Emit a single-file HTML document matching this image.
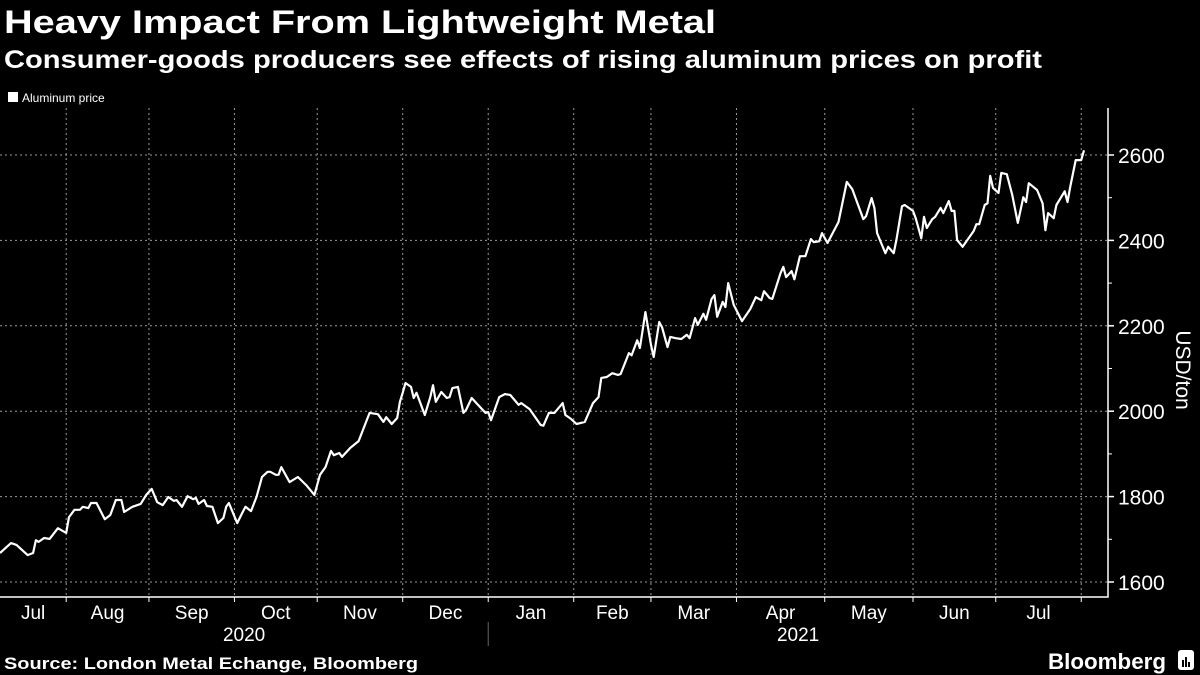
<!DOCTYPE html>
<html><head><meta charset="utf-8">
<style>
body{margin:0;background:#000;width:1200px;height:675px;overflow:hidden;font-family:"Liberation Sans",sans-serif;color:#fff}
svg{position:absolute;left:0;top:0}
</style></head>
<body>
<svg id="chart" width="1200" height="675" viewBox="0 0 1200 675">
<text x="4" y="33" font-size="32" font-weight="bold" fill="#fff" textLength="712" lengthAdjust="spacingAndGlyphs">Heavy Impact From Lightweight Metal</text>
<text x="4" y="68" font-size="25" font-weight="bold" fill="#fff" textLength="1038" lengthAdjust="spacingAndGlyphs">Consumer-goods producers see effects of rising aluminum prices on profit</text>
<g><rect x="8" y="92" width="10" height="10" fill="#fff"/><text x="22" y="102" font-size="12" fill="#fff">Aluminum price</text></g>
<g id="grid"></g><g id="axes"></g><g id="series"></g>
<text transform="translate(1176,370) rotate(90)" text-anchor="middle" font-size="21" fill="#fff">USD/ton</text>
<text x="4" y="669" font-size="17" font-weight="bold" fill="#fff" textLength="414" lengthAdjust="spacingAndGlyphs">Source: London Metal Echange, Bloomberg</text>
<text x="1048" y="669" font-size="22" font-weight="bold" fill="#fff" textLength="118" lengthAdjust="spacingAndGlyphs">Bloomberg</text>
<g><rect x="1178" y="650" width="16" height="20" rx="3" fill="#fff"/><rect x="1182" y="660" width="2" height="7" fill="#000"/><rect x="1185" y="657" width="2" height="10" fill="#000"/><rect x="1188" y="662" width="2" height="5" fill="#000"/></g>
</svg>
<script>
const days=[0,4,6,10,12,13,14,16,18,21,24,25,27,29,30,32,33,35,38,40,42,44,45,48,51,53,55,57,59,61,63,64,66,68,70,71,72,74,75,77,79,81,82,83,84,86,88,89,91,93,95,97,98,100,101,102,105,108,111,114,116,118,120,121,123,124,127,130,132,134,137,139,140,142,144,145,146,147,149,150,151,154,156,157,158,160,162,163,164,166,168,169,171,174,176,177,178,181,183,185,188,189,192,196,197,199,201,204,205,207,209,212,215,217,218,220,222,224,225,228,229,231,232,234,236,237,239,240,242,243,245,247,249,250,252,253,255,256,258,259,260,262,263,264,266,269,272,274,276,277,279,280,283,284,285,287,288,290,292,294,295,297,298,300,304,307,309,313,314,316,317,318,319,321,322,324,325,327,328,331,332,334,335,336,338,339,341,342,344,345,346,347,349,353,354,355,357,358,359,360,362,363,365,367,369,371,372,373,376,378,379,380,382,383,386,387,388,390,392,393];
const prices=[1668,1691,1687,1663,1668,1698,1694,1703,1701,1726,1715,1752,1769,1769,1776,1773,1785,1785,1747,1757,1792,1792,1764,1776,1783,1804,1818,1787,1780,1799,1790,1792,1776,1801,1794,1797,1783,1792,1778,1776,1738,1750,1776,1785,1769,1738,1764,1776,1766,1799,1846,1858,1858,1851,1851,1869,1834,1846,1827,1804,1851,1869,1907,1897,1902,1893,1914,1930,1963,1996,1993,1975,1986,1970,1984,2022,2043,2066,2057,2031,2043,1991,2033,2061,2022,2045,2031,2033,2054,2057,1996,2003,2031,2010,1996,1998,1979,2033,2040,2038,2015,2019,2005,1968,1966,1996,1996,2019,1991,1982,1970,1975,2019,2033,2078,2080,2089,2085,2087,2136,2131,2166,2148,2232,2155,2127,2209,2197,2150,2174,2171,2169,2179,2171,2218,2202,2228,2214,2263,2272,2221,2256,2244,2300,2249,2211,2239,2267,2260,2281,2265,2263,2324,2338,2314,2328,2309,2363,2363,2403,2396,2398,2417,2394,2443,2537,2520,2450,2457,2499,2476,2417,2401,2370,2385,2370,2401,2480,2483,2469,2452,2405,2455,2429,2450,2455,2476,2464,2492,2469,2469,2401,2385,2422,2438,2438,2483,2487,2551,2523,2511,2558,2555,2506,2441,2501,2490,2534,2518,2487,2424,2464,2452,2483,2515,2490,2525,2588,2588,2611];
const yTicks=[1600,1800,2000,2200,2400,2600];
const yMinor=[1700,1900,2100,2300,2500];
const monthLabels=["Jul","Aug","Sep","Oct","Nov","Dec","Jan","Feb","Mar","Apr","May","Jun","Jul"];
const monthTickDays=[24,54,85,115,146,177,208,236,267,299,331,361,392];
const yearLabels=["2020","2021"];
const yearDividerDay=177;

const NS="http://www.w3.org/2000/svg";
const X0=0,XR=1084,DMAX=393,AXX=1108,AXB=597;
const xs=d=>X0+d/DMAX*(XR-X0);
const ys=v=>582-(v-1600)*0.427;
function mk(tag,attrs,parent,text){const e=document.createElementNS(NS,tag);for(const k in attrs)e.setAttribute(k,attrs[k]);if(text!==undefined)e.textContent=text;parent.appendChild(e);return e;}
const grid=document.getElementById('grid'),axes=document.getElementById('axes'),series=document.getElementById('series');

yTicks.forEach(v=>{
  const g=mk('line',{x1:0,x2:AXX,y1:ys(v),y2:ys(v),stroke:'#9a9a9a','stroke-width':1,'stroke-dasharray':'2,3'},grid);
  
  
  const t=mk('line',{x1:AXX,x2:AXX+6,y1:ys(v),y2:ys(v),stroke:'#fff','stroke-width':1.5},axes);
  
  
  const l=mk('text',{x:AXX+10,y:ys(v)+8,'font-size':21,fill:'#fff'},axes,String(v));
  
  
});
yMinor.forEach(v=>{
  const t=mk('line',{x1:AXX,x2:AXX+4,y1:ys(v),y2:ys(v),stroke:'#fff','stroke-width':1},axes);
  
  
});
let prev=0;
monthTickDays.forEach((d,i)=>{
  const x=xs(d);
  const g=mk('line',{x1:x,x2:x,y1:108,y2:AXB,stroke:'#9a9a9a','stroke-width':1,'stroke-dasharray':'2,3'},grid);
  
  
  const t=mk('line',{x1:x,x2:x,y1:AXB,y2:AXB+5,stroke:'#fff','stroke-width':1},axes);
  
  
  const l=mk('text',{x:(xs(prev)+x)/2,y:619,'font-size':19,fill:'#fff','text-anchor':'middle'},axes,monthLabels[i]);
  
  
  prev=d;
});
const xd=xs(yearDividerDay);
const dv=mk('line',{x1:xd,x2:xd,y1:622,y2:646,stroke:'#666','stroke-width':1},axes);


[[0,yearDividerDay],[yearDividerDay,DMAX+15]].forEach((r,i)=>{
  const l=mk('text',{x:(xs(r[0])+Math.min(xs(r[1]),AXX))/2,y:641,'font-size':19,fill:'#fff','text-anchor':'middle'},axes,yearLabels[i]);
  
  
});
const ax=mk('path',{d:`M0 ${AXB} H${AXX} V108`,stroke:'#fff','stroke-width':1.5,fill:'none'},axes);


const pts=days.map((d,i)=>xs(d).toFixed(1)+','+ys(prices[i]).toFixed(1)).join(' ');
const line=mk('polyline',{points:pts,fill:'none',stroke:'#fff','stroke-width':2.2,'stroke-linejoin':'round'},series);


</script>
</body></html>
